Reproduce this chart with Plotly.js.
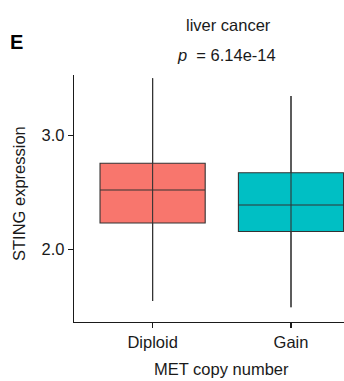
<!DOCTYPE html>
<html>
<head>
<meta charset="utf-8">
<script src="https://cdn.plot.ly/plotly-3.0.1.min.js"></script>
<style>html,body{margin:0;padding:0;background:#fff;}#chart{width:344px;height:381px;}</style>
</head>
<body>
<div id="chart"></div>
<script>
// ---- data ----
const categories = ["Diploid", "Gain"];
const lowerWhisker = [1.545, 1.489];
const q1Values = [2.232, 2.156];
const medianValues = [2.522, 2.390];
const q3Values = [2.757, 2.674];
const upperWhisker = [3.505, 3.349];
const boxColors = ["#F8766D", "#00BFC4"];
const yTickValues = [2.0, 3.0];
const yTickLabels = ["2.0", "3.0"];
const panelLabel = "E";
const titleText = "liver cancer";
const pText = "<i>p</i>&nbsp; = 6.14e-14";
const xTitle = "MET copy number";
const yTitle = "STING expression";

// ---- layout constants ----
const W = 344, H = 381;
const L = 74, R = 0, T = 75, B = 59;
const pw = W - L - R, ph = H - T - B;
const px = x => (x - L) / pw;
const py = y => (H - B - y) / ph;
const FONT = "Liberation Sans, Arial, Helvetica, sans-serif";
const FS = 16.5;
const TXT = "#1a1a1a";

const traces = [];
categories.forEach((c, i) => {
  traces.push({
    type: "box",
    x: [c],
    q1: [q1Values[i]],
    median: [medianValues[i]],
    q3: [q3Values[i]],
    lowerfence: [lowerWhisker[i]],
    upperfence: [upperWhisker[i]],
    width: 0.76,
    whiskerwidth: 0,
    fillcolor: boxColors[i],
    line: {color: "#333333", width: 1.1},
    boxpoints: false,
    hoverinfo: "skip",
    showlegend: false
  });
});
// full-range whisker line drawn through the box (as in the reference)
const wx = [], wy = [];
categories.forEach((c, i) => {
  wx.push(c, c, null);
  wy.push(lowerWhisker[i], upperWhisker[i], null);
});
traces.push({
  type: "scatter", mode: "lines", x: wx, y: wy,
  line: {color: "#333333", width: 1.1},
  connectgaps: false, hoverinfo: "skip", showlegend: false
});

const layout = {
  width: W, height: H,
  margin: {l: L, r: R, t: T, b: B, pad: 0},
  paper_bgcolor: "#ffffff", plot_bgcolor: "#ffffff",
  font: {family: FONT, size: FS, color: TXT},
  showlegend: false,
  boxmode: "overlay",
  xaxis: {
    type: "category",
    categoryarray: categories, categoryorder: "array",
    range: [-0.568, 1.383],
    showgrid: false, zeroline: false,
    showline: true, linecolor: "#1a1a1a", linewidth: 1.2,
    ticks: "outside", ticklen: 5, tickwidth: 1.2, tickcolor: "#1a1a1a",
    tickfont: {family: FONT, size: FS, color: TXT},
    automargin: false, fixedrange: true
  },
  yaxis: {
    range: [1.360, 3.534],
    tickvals: yTickValues, ticktext: yTickLabels,
    showgrid: false, zeroline: false,
    showline: true, linecolor: "#1a1a1a", linewidth: 1.2,
    ticks: "outside", ticklen: 5, tickwidth: 1.2, tickcolor: "#1a1a1a",
    tickfont: {family: FONT, size: FS, color: TXT},
    automargin: false, fixedrange: true
  },
  annotations: [
    {text: titleText, xref: "paper", yref: "paper", x: px(228.3), y: py(25),
     xanchor: "center", yanchor: "middle", showarrow: false,
     font: {family: FONT, size: FS, color: TXT}},
    {text: pText, xref: "paper", yref: "paper", x: px(226.7), y: py(55),
     xanchor: "center", yanchor: "middle", showarrow: false,
     font: {family: FONT, size: FS, color: TXT}},
    {text: "<b>" + panelLabel + "</b>", xref: "paper", yref: "paper", x: px(7.5), y: py(41.7),
     xanchor: "left", yanchor: "middle", showarrow: false,
     font: {family: FONT, size: 20, color: "#000"}},
    {text: xTitle, xref: "paper", yref: "paper", x: px(221.2), y: py(380),
     xanchor: "center", yanchor: "bottom", showarrow: false,
     font: {family: FONT, size: FS, color: TXT}},
    {text: yTitle, xref: "paper", yref: "paper", x: px(19.7), y: py(193.3),
     xanchor: "center", yanchor: "middle", textangle: -90, showarrow: false,
     font: {family: FONT, size: FS, color: TXT}}
  ]
};

Plotly.newPlot("chart", traces, layout, {displayModeBar: false, staticPlot: true});
</script>
</body>
</html>
